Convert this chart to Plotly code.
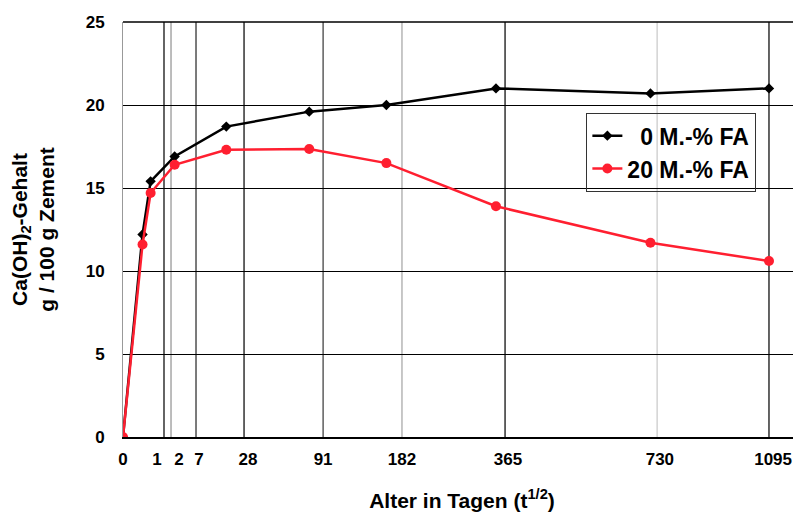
import numpy as np
import plotly.graph_objects as go

# Data: age in days and Ca(OH)2 content (g / 100 g cement)
days = [0, 1, 2, 7, 28, 91, 182, 365, 730, 1095]
fa0 = [0, 12.2, 15.4, 16.9, 18.7, 19.6, 20.0, 21.0, 20.7, 21.0]
fa20 = [0, 11.6, 14.7, 16.4, 17.3, 17.35, 16.5, 13.9, 11.7, 10.6]

# Tick labels and their positions on the sqrt(t) axis, as in the original
tick_labels = ["0", "1", "2", "7", "28", "91", "182", "365", "730", "1095"]
tick_pos = [0, 1.74, 2.87, 3.89, 6.4, 10.25, 14.29, 19.72, 27.5, 33.3]
# vertical grid lines (sqrt(t) units) as drawn in the original
grid_pos = [2.10, 2.46, 3.74, 6.20, 10.25, 14.29, 19.57, 27.36, 33.09]
grid_col = ["#111", "#999", "#333", "#111", "#444", "#aaa", "#111", "#ccc", "#111"]

x = np.sqrt(np.array(days, dtype=float))

fig = go.Figure()
fig.add_trace(go.Scatter(
    x=x, y=fa0, mode="lines+markers", name="  0 M.-% FA",
    line=dict(color="black", width=2.5),
    marker=dict(symbol="diamond", size=8, color="black"),
))
fig.add_trace(go.Scatter(
    x=x, y=fa20, mode="lines+markers", name="20 M.-% FA",
    line=dict(color="#ff1f30", width=2.5),
    marker=dict(symbol="circle", size=10, color="#ff1f30"),
))

shapes = []
for gp, gc in zip(grid_pos, grid_col):
    shapes.append(dict(type="line", xref="x", yref="paper", x0=gp, x1=gp, y0=0, y1=1,
                       line=dict(color=gc, width=1.3), layer="below"))
shapes.append(dict(type="line", xref="paper", yref="paper", x0=0, x1=1, y0=1, y1=1,
                   line=dict(color="black", width=1.3)))

font = "Liberation Sans, Arial, sans-serif"
fig.update_layout(
    width=801, height=515,
    margin=dict(l=115, r=8, t=14, b=86, autoexpand=False),
    paper_bgcolor="white", plot_bgcolor="white",
    font=dict(family=font, size=13, color="black"),
    shapes=shapes,
    showlegend=True,
    legend=dict(
        x=0.683, y=0.781, xanchor="left", yanchor="top",
        bgcolor="rgba(0,0,0,0)", bordercolor="#333", borderwidth=1.3,
        font=dict(family=font, size=23, color="black", weight="bold"),
        tracegroupgap=0,
    ),
    xaxis=dict(
        range=[0, 34.73], tickmode="array", tickvals=tick_pos, ticktext=tick_labels,
        showgrid=False, zeroline=False, showline=True, linecolor="black", linewidth=1.5,
        ticks="", ticklabelstandoff=6, automargin=False,
        tickfont=dict(family=font, size=17, weight="bold"),
        title=dict(text="Alter in Tagen (t<sup>1/2</sup>)", standoff=25,
                   font=dict(family=font, size=21, weight="bold")),
    ),
    yaxis=dict(
        range=[0, 25], tickmode="array", tickvals=[0, 5, 10, 15, 20, 25],
        showgrid=True, gridcolor="black", gridwidth=1.2,
        zeroline=False, showline=True, linecolor="#999", linewidth=1,
        ticks="", ticklabelstandoff=14, automargin=False,
        tickfont=dict(family=font, size=17, weight="bold"),
        title=dict(text="Ca(OH)<sub>2</sub>-Gehalt<br>g / 100 g Zement", standoff=30,
                   font=dict(family=font, size=21, weight="bold")),
    ),
)

fig.write_html("out.html")
